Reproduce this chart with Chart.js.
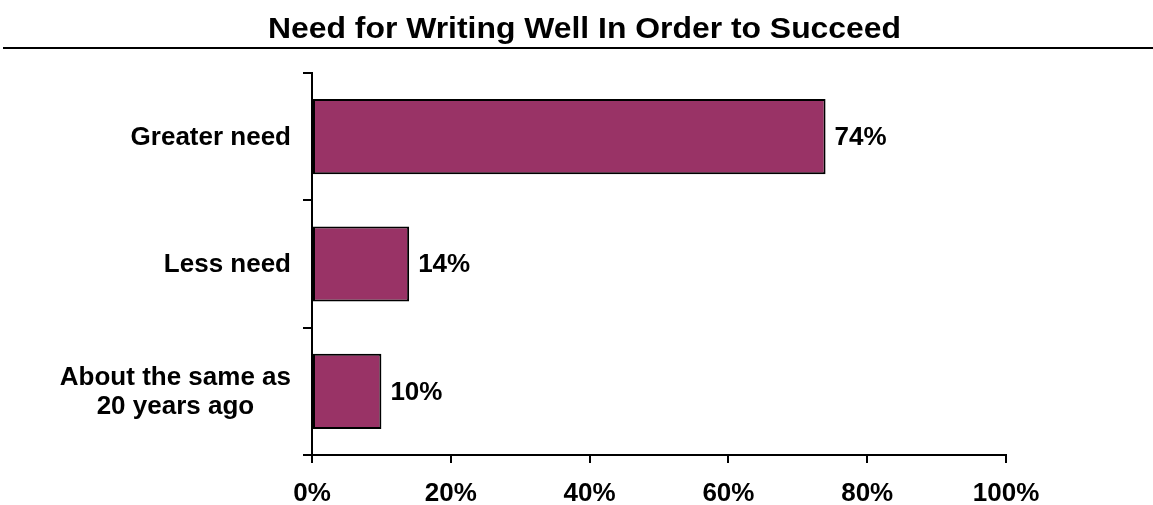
<!DOCTYPE html>
<html>
<head>
<meta charset="utf-8">
<script src="https://cdn.jsdelivr.net/npm/chart.js@4.4.1/dist/chart.umd.min.js"></script>
<style>
  html, body { margin: 0; padding: 0; background: #ffffff; }
  #wrap { width: 1153px; height: 505px; position: relative; }
</style>
</head>
<body>
<div id="wrap"><canvas id="c" width="1153" height="505"></canvas></div>
<script>
const chartTitle = 'Need for Writing Well In Order to Succeed';
const categories = [['Greater need'], ['Less need'], ['About the same as', '20 years ago']];
const values = [74, 14, 10];
const xTicks = [0, 20, 40, 60, 80, 100];

const FONT = "'Liberation Sans', Arial, Helvetica, sans-serif";

// Title with rule underneath
const titlePlugin = {
  id: 'titlePlugin',
  afterDraw(chart) {
    const ctx = chart.ctx;
    ctx.save();
    ctx.font = 'bold 29px ' + FONT;
    ctx.fillStyle = '#000';
    ctx.textAlign = 'center';
    ctx.textBaseline = 'alphabetic';
    const w = ctx.measureText(chartTitle).width;
    const sx = 633 / w;
    ctx.translate(584.5, 38);
    ctx.scale(sx, 1);
    ctx.fillText(chartTitle, 0, 0);
    ctx.restore();
    ctx.save();
    ctx.strokeStyle = '#000';
    ctx.lineWidth = 2;
    ctx.beginPath();
    ctx.moveTo(3, 48);
    ctx.lineTo(1153, 48);
    ctx.stroke();
    ctx.restore();
  }
};

// Category labels: block right-aligned to the axis, lines centred inside the block
const catLabels = {
  id: 'catLabels',
  afterDraw(chart) {
    const ctx = chart.ctx;
    const ys = chart.scales.y;
    ctx.save();
    ctx.font = 'bold 26px ' + FONT;
    ctx.fillStyle = '#000';
    ctx.textAlign = 'center';
    ctx.textBaseline = 'middle';
    const right = 291;
    const lh = 29;
    categories.forEach((lines, i) => {
      const cy = ys.getPixelForTick(i) + 1;
      const widest = Math.max(...lines.map(l => ctx.measureText(l).width));
      const cx = right - widest / 2;
      const startY = cy - (lines.length - 1) * lh / 2;
      lines.forEach((l, j) => ctx.fillText(l, cx, startY + j * lh));
    });
    ctx.restore();
  }
};

const valueLabels = {
  id: 'valueLabels',
  afterDatasetsDraw(chart) {
    const ctx = chart.ctx;
    const meta = chart.getDatasetMeta(0);
    ctx.save();
    ctx.font = 'bold 26px ' + FONT;
    ctx.fillStyle = '#000';
    ctx.textAlign = 'left';
    ctx.textBaseline = 'middle';
    meta.data.forEach((bar, i) => {
      ctx.fillText(values[i] + '%', bar.x + 9, bar.y + 1);
    });
    ctx.restore();
  }
};

new Chart(document.getElementById('c'), {
  type: 'bar',
  data: {
    labels: categories,
    datasets: [{
      data: values,
      backgroundColor: '#993366',
      borderColor: '#000000',
      borderWidth: 2,
      borderSkipped: false,
      categoryPercentage: 1.0,
      barPercentage: 0.59
    }]
  },
  options: {
    indexAxis: 'y',
    responsive: false,
    animation: false,
    devicePixelRatio: 1,
    layout: { padding: { left: 0, right: 147, top: 73, bottom: 0 } },
    plugins: {
      legend: { display: false },
      tooltip: { enabled: false },
      title: { display: false }
    },
    scales: {
      y: {
        type: 'category',
        afterFit(scale) { scale.width = 312; },
        grid: { display: true, drawOnChartArea: false, drawTicks: true, tickLength: 9, color: '#000', lineWidth: 2, offset: true },
        border: { display: true, color: '#000', width: 2 },
        ticks: { display: false }
      },
      x: {
        type: 'linear',
        min: 0,
        max: 100,
        afterFit(scale) { scale.height = 50; },
        afterBuildTicks(scale) { scale.ticks = xTicks.map(v => ({ value: v })); },
        grid: { display: true, drawOnChartArea: false, drawTicks: true, tickLength: 8, color: '#000', lineWidth: 2 },
        border: { display: true, color: '#000', width: 2 },
        ticks: { color: '#000', padding: 15, maxRotation: 0, autoSkip: false, callback: v => v + '%', font: { family: FONT, size: 26, weight: 'bold' } }
      }
    }
  },
  plugins: [titlePlugin, catLabels, valueLabels]
});
</script>
</body>
</html>
